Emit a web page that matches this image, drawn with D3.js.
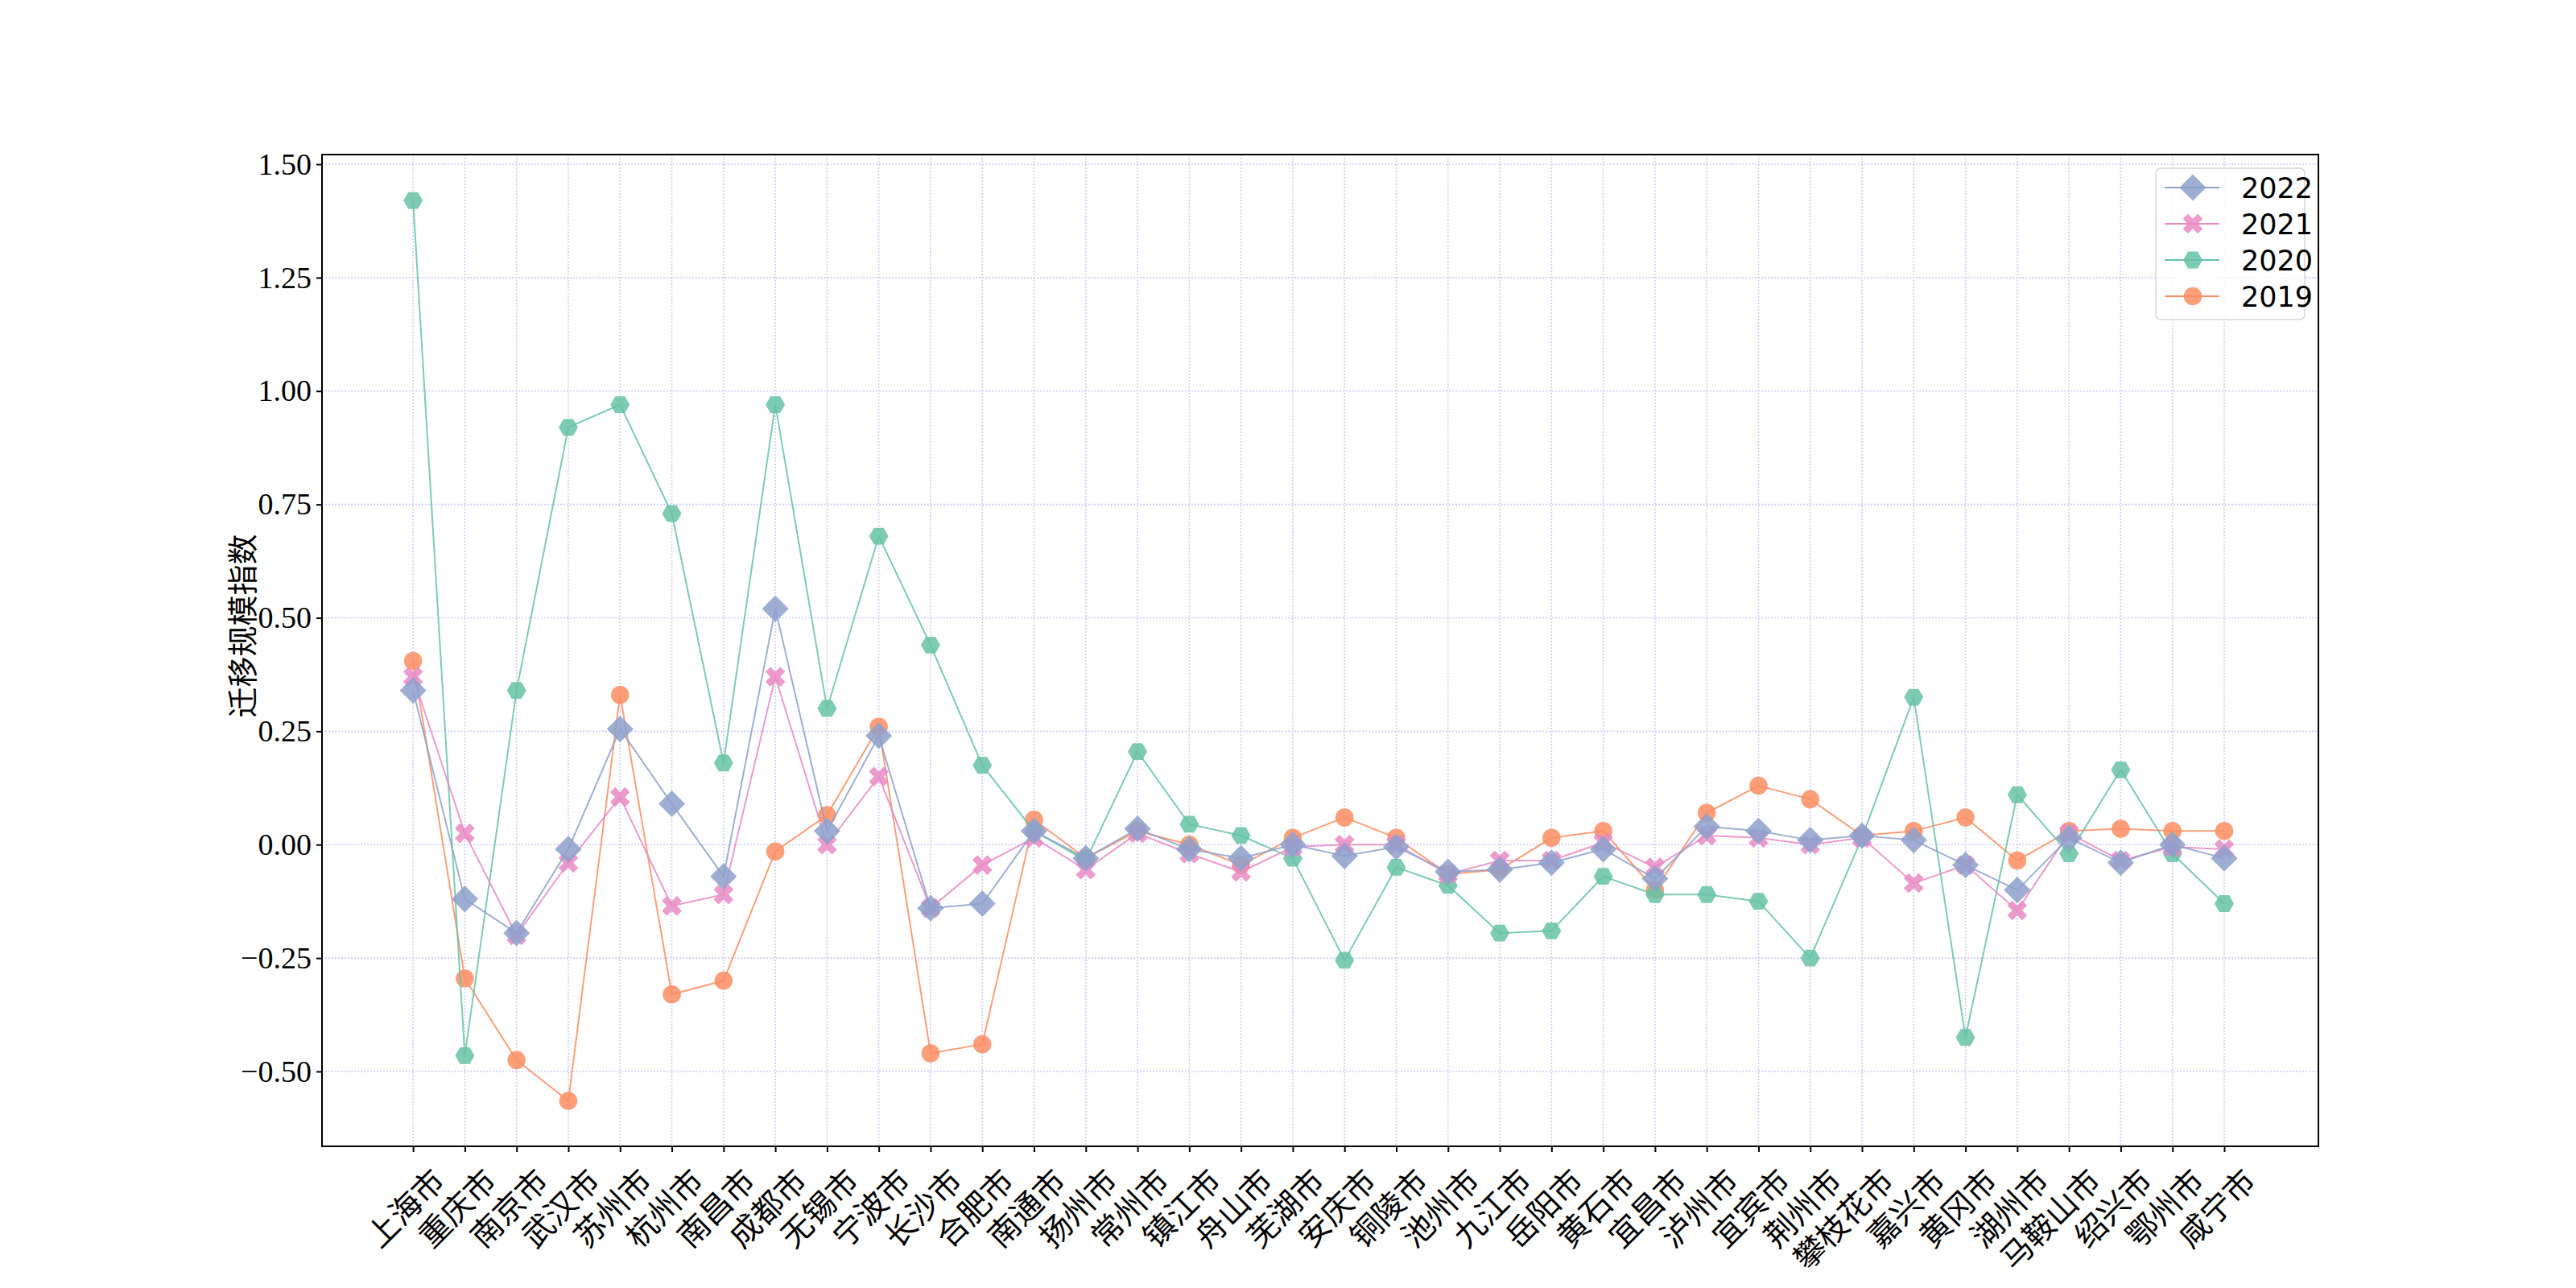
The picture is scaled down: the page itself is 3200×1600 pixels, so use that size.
<!DOCTYPE html>
<html><head><meta charset="utf-8">
<script src="https://cdn.jsdelivr.net/npm/d3@7"></script>
<style>body{margin:0;background:#fff}</style></head>
<body><svg id="c" width="3200" height="1600"></svg>
<script>
const cities=["上海市","重庆市","南京市","武汉市","苏州市","杭州市","南昌市","成都市","无锡市","宁波市","长沙市","合肥市","南通市","扬州市","常州市","镇江市","舟山市","芜湖市","安庆市","铜陵市","池州市","九江市","岳阳市","黄石市","宜昌市","泸州市","宜宾市","荆州市","攀枝花市","嘉兴市","黄冈市","湖州市","马鞍山市","绍兴市","鄂州市","咸宁市"];
const v2022=[0.34,-0.12,-0.195,-0.01,0.255,0.09,-0.07,0.52,0.03,0.24,-0.14,-0.13,0.03,-0.03,0.035,-0.01,-0.03,0.00,-0.025,-0.005,-0.06,-0.055,-0.04,-0.01,-0.075,0.04,0.03,0.01,0.02,0.01,-0.045,-0.10,0.015,-0.04,0.00,-0.03];
const v2021=[0.37,0.025,-0.20,-0.04,0.105,-0.135,-0.11,0.37,0.00,0.15,-0.14,-0.045,0.015,-0.055,0.025,-0.02,-0.06,-0.005,0.00,0.00,-0.065,-0.035,-0.035,0.005,-0.05,0.02,0.015,0.00,0.015,-0.085,-0.045,-0.145,0.025,-0.035,-0.005,-0.01];
const v2020=[1.42,-0.465,0.34,0.92,0.97,0.73,0.18,0.97,0.30,0.68,0.44,0.175,0.03,-0.035,0.205,0.045,0.02,-0.03,-0.255,-0.05,-0.09,-0.195,-0.19,-0.07,-0.11,-0.11,-0.125,-0.25,0.015,0.325,-0.425,0.11,-0.02,0.165,-0.02,-0.13];
const v2019=[0.405,-0.295,-0.475,-0.565,0.33,-0.33,-0.30,-0.015,0.065,0.26,-0.46,-0.44,0.055,-0.03,0.03,0.00,-0.045,0.015,0.06,0.015,-0.065,-0.055,0.015,0.03,-0.10,0.07,0.13,0.10,0.02,0.03,0.06,-0.035,0.03,0.035,0.03,0.03];
const yTicks=[-0.5,-0.25,0,0.25,0.5,0.75,1.0,1.25,1.5];
const series=[
 {name:"2022",vals:v2022,color:"#8da0cb",sym:d3.symbolDiamond2,size:700},
 {name:"2021",vals:v2021,color:"#e78ac3",x:true},
 {name:"2020",vals:v2020,color:"#66c2a5"},
 {name:"2019",vals:v2019,color:"#fc8d62",sym:d3.symbolCircle,size:400}
];
const L=400,R=2880,T=192,B=1424;
const svg=d3.select("#c");
const x=d3.scaleLinear().domain([-1.76,cities.length-1+1.82]).range([L,R]);
const y=d3.scaleLinear().domain([-0.5,1.5]).range([1331,204]);
const g=svg.append("g");
g.selectAll(".gx").data(cities).join("line").attr("x1",(d,i)=>x(i)).attr("x2",(d,i)=>x(i)).attr("y1",T).attr("y2",B)
 .attr("stroke","#ccccff").attr("stroke-width",1.6).attr("stroke-dasharray","2,2");
g.selectAll(".gy").data(yTicks).join("line").attr("x1",L).attr("x2",R).attr("y1",d=>y(d)).attr("y2",d=>y(d))
 .attr("stroke","#ccccff").attr("stroke-width",1.6).attr("stroke-dasharray","2,2");
function hex(r){const p=[];for(let k=0;k<6;k++){const a=Math.PI/3*k;p.push([r*Math.cos(a),r*Math.sin(a)]);}return "M"+p.map(q=>q.join(",")).join("L")+"Z";}
function marker(sel,s){
 if(s.name==="2020") sel.append("path").attr("d",hex(12));
 else if(s.x) sel.append("path").attr("d",d3.symbol(d3.symbolCross,380)()).attr("transform","rotate(45)");
 else sel.append("path").attr("d",d3.symbol(s.sym,s.size)());
}
series.slice().reverse().forEach(s=>{
 const line=d3.line().x((d,i)=>x(i)).y(d=>y(d));
 g.append("path").datum(s.vals).attr("d",line).attr("fill","none").attr("stroke",s.color).attr("stroke-opacity",0.85).attr("stroke-width",2);
 g.selectAll(null).data(s.vals).join("g").attr("transform",(d,i)=>`translate(${x(i)},${y(d)})`)
  .attr("fill",s.color).attr("fill-opacity",0.85).each(function(){marker(d3.select(this),s);});
});
svg.append("rect").attr("x",L).attr("y",T).attr("width",R-L).attr("height",B-T).attr("fill","none").attr("stroke","#000").attr("stroke-width",2);
const ya=svg.append("g").attr("transform",`translate(${L},0)`).call(d3.axisLeft(y).tickValues(yTicks).tickFormat(d3.format(".2f")).tickSize(7).tickPadding(6));
ya.select(".domain").remove();
ya.selectAll("text").attr("font-family","Liberation Serif").attr("font-size",38).attr("fill","#000");
ya.selectAll("line").attr("stroke-width",2);
const xa=svg.append("g").attr("transform",`translate(0,${B})`).call(d3.axisBottom(x).tickValues(d3.range(cities.length)).tickFormat(i=>cities[i]).tickSize(7));
xa.select(".domain").remove();
xa.selectAll("line").attr("stroke-width",2);
xa.selectAll("text").attr("font-family","Noto Sans CJK SC").attr("font-size",39).attr("fill","#000")
 .attr("text-anchor","end").attr("dy",null).attr("y",0).attr("transform","translate(16,20) rotate(-45)").attr("dominant-baseline","hanging");
svg.append("text").attr("transform",`translate(315,${y(0.5)+10}) rotate(-90)`).attr("text-anchor","middle")
 .attr("font-family","Noto Sans CJK SC").attr("font-size",38).text("迁移规模指数");
const lg=svg.append("g");
lg.append("rect").attr("x",2678).attr("y",209).attr("width",185).attr("height",188).attr("rx",6).attr("fill","#fff").attr("fill-opacity",0.8).attr("stroke","#d6d6d6").attr("stroke-width",1.5);
series.forEach((s,k)=>{
 const yy=233+k*45;
 lg.append("line").attr("x1",2689).attr("x2",2757).attr("y1",yy).attr("y2",yy).attr("stroke",s.color).attr("stroke-width",2);
 const m=lg.append("g").attr("transform",`translate(2724,${yy})`).attr("fill",s.color).attr("fill-opacity",0.85);
 marker(m,s);
 lg.append("text").attr("x",2784).attr("y",yy+13).attr("font-family","DejaVu Sans").attr("font-size",35).text(s.name);
});
</script></body></html>
